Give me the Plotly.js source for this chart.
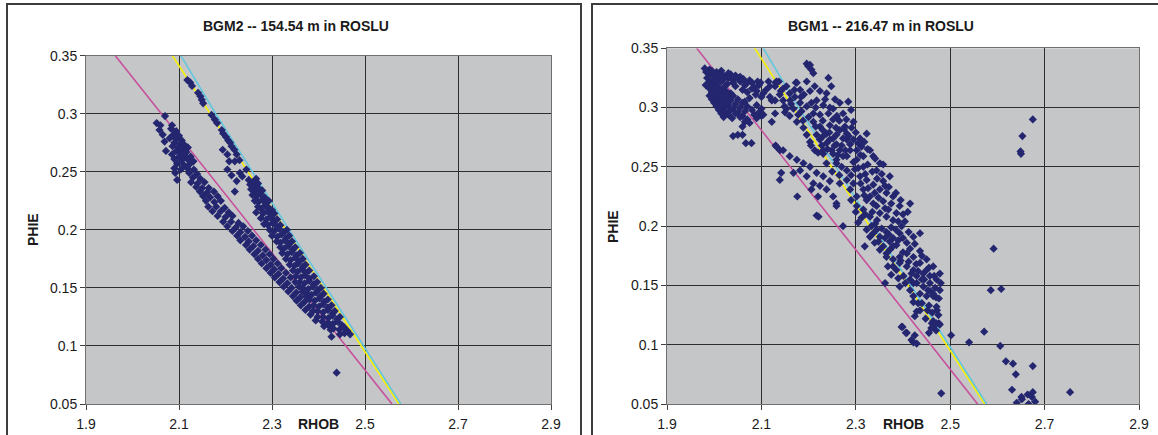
<!DOCTYPE html>
<html>
<head>
<meta charset="utf-8">
<script src="https://cdn.plot.ly/plotly-3.0.1.min.js"></script>
<style>
  html, body { margin: 0; padding: 0; background: #ffffff; }
  #chart { width: 1158px; height: 435px; }
</style>
</head>
<body>
<div id="chart"></div>
<script>
// Axis ticks
const rhobTicks = [1.9, 2.1, 2.3, 2.5, 2.7, 2.9];
const phieTicks = [0.05, 0.1, 0.15, 0.2, 0.25, 0.3, 0.35];

// Panel titles
const panelTitles = ["BGM2 -- 154.54 m in ROSLU", "BGM1 -- 216.47 m in ROSLU"];

// Density-porosity reference lines (RHOB, PHIE)
const magentaRhob = [1.963, 2.558];
const magentaPhie = [0.35, 0.05];
const yellowRhob = [2.086, 2.573];
const yellowPhie = [0.35, 0.05];
const cyanRhob = [2.104, 2.179, 2.337, 2.577];
const cyanPhie = [0.35, 0.30, 0.20, 0.05];

// BGM2 log samples [RHOB, PHIE]
const bgm2Points = [
  [2.118,0.329],[2.124,0.327],[2.128,0.324],[2.141,0.318],[2.146,0.315],[2.149,0.312],[2.152,0.309],
  [2.170,0.299],[2.177,0.295],[2.182,0.292],[2.192,0.286],[2.195,0.283],[2.201,0.280],[2.206,0.277],
  [2.210,0.275],[2.213,0.272],[2.219,0.269],[2.224,0.265],[2.230,0.260],[2.194,0.269],[2.204,0.265],
  [2.208,0.259],[2.220,0.259],[2.204,0.252],[2.213,0.247],[2.224,0.242],[2.220,0.233],[2.231,0.249],
  [2.245,0.252],[2.236,0.246],
  [2.250,0.243],[2.258,0.241],[2.266,0.244],[2.253,0.239],[2.261,0.238],[2.270,0.240],
  [2.255,0.235],[2.263,0.233],[2.271,0.236],[2.279,0.234],
  [2.258,0.230],[2.267,0.229],[2.275,0.231],[2.284,0.228],
  [2.263,0.225],[2.271,0.224],[2.279,0.226],[2.287,0.223],[2.293,0.225],
  [2.270,0.220],[2.277,0.218],[2.285,0.221],[2.293,0.219],[2.300,0.217],
  [2.266,0.215],[2.281,0.214],[2.290,0.216],[2.298,0.213],[2.305,0.214],
  [2.276,0.210],[2.288,0.209],[2.296,0.211],[2.304,0.208],[2.311,0.209],
  [2.283,0.205],[2.291,0.204],[2.301,0.206],[2.310,0.203],[2.318,0.204],
  [2.295,0.200],[2.305,0.199],[2.315,0.201],[2.325,0.198],[2.332,0.200],
  [2.300,0.195],[2.311,0.194],[2.320,0.196],[2.330,0.193],[2.337,0.195],
  [2.310,0.190],[2.318,0.189],[2.328,0.191],[2.336,0.188],[2.343,0.190],
  [2.318,0.185],[2.326,0.184],[2.335,0.186],[2.345,0.183],[2.350,0.185],
  [2.322,0.180],[2.333,0.179],[2.342,0.181],[2.352,0.178],[2.360,0.180],
  [2.330,0.175],[2.340,0.174],[2.350,0.176],[2.358,0.173],[2.366,0.175],
  [2.338,0.170],[2.348,0.169],[2.356,0.171],[2.366,0.168],[2.372,0.170],
  [2.345,0.165],[2.355,0.164],[2.365,0.166],[2.373,0.163],[2.380,0.165],
  [2.351,0.160],[2.362,0.159],[2.371,0.161],[2.380,0.158],[2.390,0.160],
  [2.360,0.155],[2.370,0.154],[2.380,0.156],[2.390,0.153],[2.397,0.155],
  [2.366,0.150],[2.378,0.149],[2.388,0.151],[2.398,0.148],[2.405,0.150],
  [2.375,0.145],[2.385,0.144],[2.395,0.146],[2.405,0.143],[2.411,0.145],
  [2.381,0.140],[2.392,0.139],[2.402,0.141],[2.412,0.138],[2.420,0.140],
  [2.390,0.135],[2.401,0.134],[2.410,0.136],[2.420,0.133],[2.428,0.135],
  [2.398,0.130],[2.410,0.129],[2.420,0.131],[2.430,0.128],[2.435,0.130],
  [2.410,0.125],[2.421,0.124],[2.430,0.126],[2.440,0.123],[2.446,0.125],
  [2.421,0.120],[2.431,0.119],[2.441,0.121],[2.450,0.118],
  [2.432,0.115],[2.445,0.114],[2.455,0.116],[2.462,0.113],
  [2.446,0.110],[2.456,0.111],[2.468,0.110],
  [2.070,0.298],[2.052,0.292],[2.060,0.290],[2.085,0.290],
  [2.058,0.286],[2.083,0.287],[2.094,0.285],
  [2.065,0.282],[2.088,0.282],[2.100,0.281],
  [2.080,0.279],[2.094,0.278],[2.106,0.277],
  [2.069,0.276],[2.090,0.275],[2.102,0.274],[2.112,0.273],
  [2.086,0.272],[2.098,0.271],[2.108,0.270],[2.119,0.271],
  [2.072,0.268],[2.094,0.268],[2.104,0.266],[2.116,0.267],
  [2.085,0.265],[2.100,0.263],[2.112,0.264],[2.125,0.263],
  [2.090,0.261],[2.106,0.260],[2.118,0.261],[2.131,0.259],
  [2.096,0.257],[2.110,0.256],[2.124,0.257],
  [2.090,0.253],[2.104,0.252],[2.118,0.253],[2.132,0.252],
  [2.092,0.249],[2.122,0.249],[2.139,0.248],
  [2.130,0.245],[2.146,0.244],
  [2.096,0.243],[2.126,0.241],[2.140,0.240],[2.155,0.241],
  [2.137,0.237],[2.150,0.236],[2.164,0.236],
  [2.145,0.233],[2.160,0.232],[2.175,0.233],
  [2.152,0.229],[2.167,0.228],[2.183,0.229],
  [2.158,0.225],[2.176,0.224],[2.190,0.225],
  [2.163,0.220],[2.180,0.220],[2.198,0.219],
  [2.172,0.216],[2.190,0.216],[2.207,0.215],
  [2.183,0.212],[2.200,0.211],[2.215,0.212],
  [2.195,0.207],[2.212,0.207],[2.228,0.206],
  [2.204,0.203],[2.222,0.202],[2.238,0.203],
  [2.215,0.199],[2.232,0.198],[2.248,0.199],
  [2.225,0.195],[2.242,0.194],[2.257,0.195],
  [2.232,0.191],[2.250,0.190],[2.266,0.191],
  [2.244,0.187],[2.260,0.186],[2.276,0.187],
  [2.252,0.183],[2.270,0.182],[2.286,0.183],
  [2.262,0.179],[2.280,0.178],[2.295,0.179],
  [2.270,0.175],[2.288,0.174],[2.303,0.175],
  [2.278,0.171],[2.297,0.170],[2.312,0.171],
  [2.288,0.167],[2.305,0.166],[2.320,0.167],
  [2.297,0.163],[2.314,0.162],[2.330,0.163],
  [2.306,0.159],[2.324,0.158],[2.340,0.159],
  [2.316,0.155],[2.333,0.154],[2.350,0.155],
  [2.325,0.151],[2.342,0.150],[2.358,0.151],
  [2.335,0.147],[2.352,0.146],[2.366,0.147],
  [2.345,0.143],[2.361,0.142],[2.374,0.143],
  [2.353,0.139],[2.370,0.138],
  [2.362,0.135],[2.380,0.134],
  [2.372,0.131],[2.388,0.130],
  [2.383,0.127],[2.398,0.125],
  [2.394,0.122],[2.408,0.121],
  [2.412,0.117],[2.421,0.118],[2.426,0.114],
  [2.428,0.108],[2.439,0.077]
];

// BGM1 log samples [RHOB, PHIE]
const bgm1Points = [
  [1.980,0.333],[1.990,0.332],
  [1.983,0.330],[1.995,0.331],[2.005,0.330],[2.015,0.331],[2.030,0.329],
  [1.990,0.328],[2.000,0.327],[2.010,0.328],[2.020,0.327],[2.035,0.328],[2.045,0.327],[2.055,0.326],
  [1.985,0.325],[1.998,0.324],[2.008,0.325],[2.020,0.324],[2.030,0.325],[2.040,0.323],[2.050,0.325],[2.062,0.324],[2.075,0.323],
  [1.990,0.322],[2.002,0.321],[2.015,0.322],[2.028,0.320],[2.040,0.321],[2.055,0.322],[2.068,0.320],[2.080,0.321],[2.092,0.322],
  [1.982,0.319],[1.995,0.318],[2.006,0.319],[2.020,0.317],[2.045,0.318],[2.065,0.319],[2.085,0.317],[2.095,0.319],
  [1.990,0.316],[2.000,0.315],[2.012,0.316],[2.025,0.314],[2.060,0.315],[2.080,0.316],[2.090,0.314],
  [1.995,0.313],[2.005,0.312],[2.015,0.313],[2.025,0.311],[2.035,0.312],[2.070,0.313],[2.088,0.311],
  [1.990,0.310],[2.000,0.309],[2.010,0.310],[2.020,0.308],[2.030,0.309],[2.040,0.310],[2.075,0.308],
  [1.995,0.307],[2.005,0.306],[2.015,0.307],[2.025,0.305],[2.035,0.306],[2.050,0.307],[2.065,0.305],
  [2.000,0.304],[2.010,0.303],[2.020,0.304],[2.030,0.302],[2.045,0.303],[2.060,0.304],[2.090,0.302],
  [2.005,0.301],[2.015,0.300],[2.025,0.301],[2.040,0.299],[2.055,0.300],[2.070,0.301],[2.100,0.299],
  [2.010,0.298],[2.022,0.297],[2.035,0.298],[2.050,0.296],[2.065,0.297],[2.080,0.298],[2.095,0.296],
  [2.015,0.295],[2.030,0.294],[2.045,0.295],[2.060,0.293],[2.085,0.294],[2.100,0.293],
  [2.020,0.292],[2.038,0.291],[2.055,0.292],[2.070,0.290],[2.090,0.291],
  [2.065,0.288],[2.075,0.287],[2.060,0.284],[2.040,0.276],[2.050,0.277],[2.060,0.277],[2.067,0.270],[2.079,0.270],
  [2.196,0.337],[2.199,0.335],[2.206,0.332],[2.203,0.336],[2.210,0.329],[2.242,0.325],
  [2.098,0.321],[2.110,0.315],[2.122,0.306],[2.149,0.301],[2.153,0.318],[2.137,0.322],[2.161,0.306],[2.173,0.321],[2.184,0.309],[2.196,0.322],
  [2.115,0.322],[2.132,0.322],[2.175,0.321],[2.182,0.315],[2.203,0.314],[2.224,0.314],[2.238,0.312],[2.256,0.307],[2.284,0.305],[2.146,0.316],[2.160,0.312],[2.104,0.312],[2.129,0.318],[2.130,0.321],[2.118,0.318],[2.141,0.314],[2.100,0.309],
  [2.118,0.309],[2.129,0.306],[2.139,0.311],[2.153,0.299],[2.171,0.309],[2.182,0.304],[2.196,0.301],[2.206,0.304],[2.217,0.306],[2.231,0.302],[2.242,0.295],[2.252,0.299],[2.266,0.304],[2.273,0.295],[2.104,0.294],[2.122,0.288],[2.129,0.295],[2.168,0.299],[2.178,0.294],[2.210,0.295],[2.224,0.294],[2.146,0.306],[2.185,0.297],
  [2.150,0.296],[2.163,0.303],[2.190,0.311],[2.215,0.300],[2.235,0.307],[2.245,0.300],[2.260,0.293],[2.200,0.292],[2.188,0.289],[2.230,0.289],[2.265,0.289],[2.280,0.290],[2.170,0.315],[2.213,0.318],[2.248,0.318],[2.290,0.298],[2.160,0.293],
  [2.175,0.288],[2.189,0.283],[2.196,0.277],[2.210,0.288],[2.224,0.284],[2.238,0.278],[2.252,0.274],[2.266,0.281],[2.277,0.284],[2.291,0.283],[2.295,0.273],[2.309,0.274],[2.323,0.278],[2.312,0.267],[2.330,0.264],[2.337,0.259],[2.351,0.253],[2.252,0.290],[2.224,0.273],[2.238,0.270],[2.259,0.269],[2.281,0.273],[2.203,0.271],[2.217,0.277],[2.245,0.285],[2.281,0.278],[2.295,0.288],
  [2.231,0.276],[2.245,0.273],[2.259,0.277],[2.273,0.274],[2.288,0.269],[2.266,0.264],[2.249,0.264],[2.231,0.261],[2.213,0.264],[2.302,0.264],[2.281,0.259],[2.295,0.254],[2.316,0.259],[2.259,0.256],
  [2.205,0.268],[2.220,0.262],[2.228,0.268],[2.240,0.265],[2.255,0.268],[2.262,0.260],[2.270,0.268],[2.278,0.264],[2.285,0.276],[2.300,0.279],[2.305,0.270],[2.318,0.271],[2.325,0.265],[2.310,0.260],[2.298,0.248],[2.270,0.250],[2.250,0.246],[2.265,0.243],[2.290,0.243],[2.305,0.249],[2.325,0.252],[2.335,0.246],[2.320,0.244],[2.275,0.282],[2.258,0.283],[2.244,0.279],[2.230,0.281],[2.215,0.284],
  [2.130,0.268],[2.132,0.267],[2.139,0.264],[2.146,0.264],[2.160,0.259],[2.175,0.256],[2.189,0.253],[2.203,0.250],[2.217,0.245],[2.168,0.245],[2.139,0.239],[2.142,0.245],[2.176,0.225],[2.217,0.209],[2.221,0.208],
  [2.231,0.264],[2.252,0.261],[2.273,0.259],[2.288,0.264],[2.302,0.256],[2.316,0.250],[2.259,0.253],[2.281,0.247],[2.238,0.253],[2.341,0.257],[2.358,0.252],
  [2.196,0.242],[2.210,0.236],[2.224,0.234],[2.238,0.231],[2.252,0.225],[2.259,0.219],[2.231,0.242],[2.245,0.238],[2.206,0.231],[2.182,0.247],[2.220,0.225],
  [2.281,0.239],[2.295,0.236],[2.309,0.242],[2.323,0.239],[2.337,0.235],[2.351,0.231],[2.365,0.228],[2.372,0.242],[2.379,0.225],[2.330,0.225],[2.302,0.225],[2.344,0.247],[2.288,0.231],[2.316,0.231],[2.358,0.238],[2.266,0.236],
  [2.290,0.222],[2.310,0.236],[2.318,0.226],[2.326,0.232],[2.340,0.228],[2.345,0.240],[2.355,0.244],[2.362,0.234],[2.370,0.233],[2.375,0.219],[2.362,0.215],[2.348,0.224],[2.335,0.212],[2.320,0.210],[2.300,0.212],[2.305,0.203],[2.385,0.228],[2.395,0.222],[2.400,0.210],[2.410,0.212],[2.390,0.204],[2.375,0.199],
  [2.302,0.217],[2.316,0.214],[2.330,0.208],[2.344,0.217],[2.351,0.211],[2.365,0.208],[2.379,0.205],[2.393,0.217],[2.404,0.204],[2.415,0.219],[2.337,0.219],[2.273,0.200],[2.259,0.217],[2.358,0.221],[2.323,0.222],[2.386,0.211],[2.369,0.214],[2.312,0.207],
  [2.323,0.197],[2.337,0.194],[2.351,0.191],[2.365,0.195],[2.379,0.190],[2.393,0.194],[2.408,0.186],[2.422,0.191],[2.436,0.194],[2.358,0.183],[2.372,0.180],[2.386,0.184],[2.319,0.183],[2.436,0.179],[2.333,0.200],[2.348,0.187],[2.397,0.200],
  [2.330,0.191],[2.344,0.197],[2.351,0.180],[2.365,0.177],[2.379,0.183],[2.341,0.202],
  [2.345,0.205],[2.355,0.198],[2.370,0.193],[2.385,0.197],[2.400,0.190],[2.412,0.195],[2.425,0.185],[2.415,0.181],[2.400,0.178],[2.390,0.188],[2.372,0.187],[2.362,0.190],[2.340,0.186],[2.395,0.171],[2.412,0.170],[2.428,0.168],[2.440,0.175],[2.450,0.172],[2.455,0.165],[2.445,0.155],[2.432,0.162],[2.418,0.160],[2.405,0.152],[2.390,0.156],[2.375,0.159],[2.368,0.166],[2.458,0.145],[2.470,0.140],[2.480,0.152],[2.478,0.160],[2.466,0.158],
  [2.365,0.174],[2.379,0.172],[2.393,0.169],[2.408,0.166],[2.422,0.163],[2.436,0.169],[2.450,0.163],[2.464,0.166],[2.408,0.177],[2.422,0.174],[2.386,0.163],[2.401,0.158],[2.415,0.155],[2.362,0.152],[2.393,0.174],[2.429,0.158],[2.443,0.160],[2.457,0.158],[2.379,0.166],
  [2.429,0.152],[2.443,0.149],[2.457,0.152],[2.471,0.155],[2.478,0.146],[2.436,0.143],[2.450,0.141],[2.422,0.141],[2.464,0.141],[2.471,0.132],[2.393,0.149],[2.415,0.146],[2.422,0.152],[2.453,0.146],[2.468,0.148],[2.440,0.155],[2.432,0.135],
  [2.422,0.136],[2.429,0.128],[2.464,0.143],[2.476,0.139],[2.452,0.129],[2.472,0.129],[2.464,0.120],[2.468,0.117],[2.476,0.118],[2.460,0.114],
  [2.440,0.135],[2.455,0.133],[2.462,0.127],[2.448,0.122],[2.475,0.125],[2.470,0.112],[2.455,0.110],
  [2.436,0.129],[2.461,0.118],[2.464,0.115],[2.471,0.118],[2.478,0.117],[2.425,0.124],
  [2.397,0.115],[2.399,0.115],[2.406,0.110],[2.408,0.110],[2.418,0.104],[2.422,0.102],[2.425,0.108],[2.429,0.101],
  [2.502,0.108],[2.540,0.102],[2.481,0.059],[2.572,0.111],[2.592,0.181],[2.586,0.146],[2.608,0.147],
  [2.606,0.099],[2.618,0.086],[2.633,0.084],[2.675,0.082],[2.639,0.075],[2.631,0.062],
  [2.651,0.056],[2.652,0.054],[2.664,0.058],[2.675,0.060],[2.673,0.056],[2.641,0.051],[2.666,0.050],[2.680,0.052],[2.754,0.060],
  [2.675,0.290],[2.653,0.276],[2.649,0.263],[2.650,0.261]
];

// ---- page geometry (pixels) ----
const W = 1158, H = 435;
const fx = p => p / W;            // pixel x -> paper fraction
const fy = p => (H - p) / H;      // pixel y -> paper fraction

const FONT = 'Liberation Sans, Arial, Helvetica, sans-serif';
const INK = '#1a1a1a';

function axisStyle(ticks) {
  return {
    range: [ticks[0], ticks[ticks.length - 1]],
    tickmode: 'array',
    tickvals: ticks,
    ticktext: ticks.map(String),
    showgrid: true,
    gridcolor: '#2e2e2e',
    gridwidth: 1,
    zeroline: false,
    showline: true,
    linecolor: '#6f6f6f',
    linewidth: 1,
    mirror: true,
    ticks: 'outside',
    ticklen: 5,
    tickwidth: 1,
    tickcolor: '#404040',
    tickfont: { family: FONT, size: 14, color: INK },
    fixedrange: true
  };
}

const panels = [
  { xa: 'x',  ya: 'y',  pts: bgm2Points, left: 86,  right: 551,  top: 55.7, bottom: 404,
    box: [7, 581], title: panelTitles[0], titleX: 296, phieX: 33, phieY: 230 },
  { xa: 'x2', ya: 'y2', pts: bgm1Points, left: 667, right: 1139, top: 48.3, bottom: 404,
    box: [592, 1162], title: panelTitles[1], titleX: 881, phieX: 613, phieY: 227 }
];

const traces = [];
const annotations = [];
const shapes = [];
const layout = {
  width: W, height: H,
  margin: { l: 0, r: 0, t: 0, b: 0, pad: 0 },
  paper_bgcolor: '#ffffff',
  plot_bgcolor: '#c5c6c8',
  showlegend: false,
  hovermode: false,
  font: { family: FONT, size: 14, color: INK }
};

panels.forEach((p, i) => {
  const sfx = i === 0 ? '' : '2';
  layout['xaxis' + sfx] = Object.assign(axisStyle(rhobTicks), {
    domain: [fx(p.left), fx(p.right)], anchor: p.ya, ticklabelstandoff: 2
  });
  layout['yaxis' + sfx] = Object.assign(axisStyle(phieTicks), {
    domain: [fy(p.bottom), fy(p.top)], anchor: p.xa
  });

  const line = (xs, ys, color) => ({
    type: 'scatter', mode: 'lines', x: xs, y: ys, xaxis: p.xa, yaxis: p.ya,
    line: { color: color, width: 1.6 }
  });
  traces.push(line(magentaRhob, magentaPhie, '#c7509d'));
  traces.push(line(yellowRhob, yellowPhie, '#f5f000'));
  traces.push(line(cyanRhob, cyanPhie, '#62c6dc'));

  traces.push({
    type: 'scatter', mode: 'markers',
    x: p.pts.map(d => d[0]), y: p.pts.map(d => d[1]),
    xaxis: p.xa, yaxis: p.ya,
    marker: { symbol: 'diamond', size: 6.3, color: '#24266f', line: { width: 0 } }
  });

  // chart title
  annotations.push({
    xref: 'paper', yref: 'paper', x: fx(p.titleX), y: fy(26),
    xanchor: 'center', yanchor: 'middle', showarrow: false,
    text: '<b>' + p.title + '</b>',
    font: { family: FONT, size: 14, color: INK }
  });
  // x axis title
  annotations.push({
    xref: 'paper', yref: 'paper', x: fx((p.left + p.right) / 2), y: fy(424),
    xanchor: 'center', yanchor: 'middle', showarrow: false,
    text: '<b>RHOB</b>',
    font: { family: FONT, size: 14, color: INK }
  });
  // y axis title
  annotations.push({
    xref: 'paper', yref: 'paper', x: fx(p.phieX), y: fy(p.phieY),
    xanchor: 'center', yanchor: 'middle', showarrow: false, textangle: -90,
    text: '<b>PHIE</b>',
    font: { family: FONT, size: 14, color: INK }
  });
  // chart frame (left, top, right edges)
  shapes.push({
    type: 'path', xref: 'paper', yref: 'paper',
    path: 'M ' + fx(p.box[0]) + ' ' + fy(440) +
          ' L ' + fx(p.box[0]) + ' ' + fy(4) +
          ' L ' + fx(p.box[1]) + ' ' + fy(4) +
          ' L ' + fx(p.box[1]) + ' ' + fy(440),
    line: { color: '#3d3d3d', width: 2 }
  });
});

layout.annotations = annotations;
layout.shapes = shapes;

Plotly.newPlot('chart', traces, layout, { staticPlot: true, displayModeBar: false });
</script>
</body>
</html>
